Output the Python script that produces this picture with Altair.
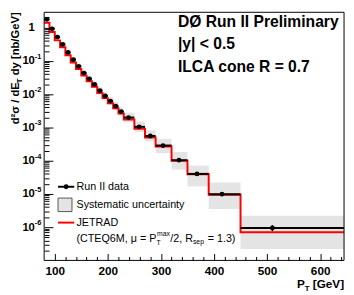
import altair as alt
import pandas as pd

# ---------------- data ----------------
bin_lo = [80, 90, 100, 110, 120, 130, 140, 150, 160, 170, 180, 190, 200, 210, 220,
          230, 250, 270, 290, 320, 350, 390, 450]
bin_hi = [90, 100, 110, 120, 130, 140, 150, 160, 170, 180, 190, 200, 210, 220, 230,
          250, 270, 290, 320, 350, 390, 450, 645]
pt_mean = [85, 95, 105, 115, 125, 135, 145, 155, 165, 175, 185, 195, 205, 215, 225,
           239, 259, 280, 304, 334, 368, 415, 510]
xsec_data = [1.78, 0.92, 0.52, 0.313, 0.18, 0.109, 0.0686, 0.0432, 0.029, 0.0195,
             0.0128, 0.00885, 0.0062, 0.00436, 0.003, 0.00198, 0.00104, 0.000552,
             0.000285, 1.03e-4, 4.0e-5, 9.8e-6, 9.5e-7]
xsec_jetrad = [1.41, 0.74, 0.415, 0.257, 0.148, 0.090, 0.057, 0.0363, 0.0244, 0.0166,
               0.0109, 0.0076, 0.00533, 0.00379, 0.00261, 0.00172, 0.000915, 0.000497,
               0.000265, 1.0e-4, 3.92e-5, 9.5e-6, 7.0e-7]
sys_up_pct = [22, 20, 19, 19, 20, 21, 22, 23, 24, 25, 27, 29, 31, 33, 35,
              40, 44, 49, 59, 78, 78, 125, 131]
sys_dn_pct = [18, 17, 16, 16, 17, 17, 18, 19, 20, 20, 21, 22, 23, 24, 25,
              28, 30, 31, 41, 48, 58, 64, 77]
stat_pct = [1, 1, 1, 1, 1, 1, 1, 1, 1, 1, 1, 1, 1, 1, 2, 2, 3, 4, 5, 7, 9, 12, 20]

x_major = [100, 200, 300, 400, 500, 600]
x_minor = [120, 140, 160, 180, 220, 240, 260, 280, 320, 340, 360, 380, 420, 440,
           460, 480, 520, 540, 560, 580, 620, 640]
y_major = [1e-6, 1e-5, 1e-4, 1e-3, 1e-2, 1e-1, 1]
y_exp_vals = [1e-6, 1e-5, 1e-4, 1e-3, 1e-2, 1e-1]
y_exp_text = ["-6", "-5", "-4", "-3", "-2", "-1"]
y_minor = [m * 10.0 ** e for e in range(-7, 1) for m in range(2, 10) if m * 10.0 ** e <= 2.9]

title_lines = ["DØ Run II Preliminary", "|y| < 0.5", "ILCA cone R = 0.7"]

# ---------------- tables ----------------
df = pd.DataFrame({
    "lo": bin_lo, "hi": bin_hi, "pt": pt_mean, "data": xsec_data,
})
df["band_hi"] = [d * (1 + u / 100) for d, u in zip(xsec_data, sys_up_pct)]
df["band_lo"] = [d * (1 - v / 100) for d, v in zip(xsec_data, sys_dn_pct)]
df["stat_hi"] = [d * (1 + s / 100) for d, s in zip(xsec_data, stat_pct)]
df["stat_lo"] = [d * (1 - s / 100) for d, s in zip(xsec_data, stat_pct)]

df_th = pd.DataFrame({"x": bin_lo + [bin_hi[-1]], "y": xsec_jetrad + [xsec_jetrad[-1]]})
df_exp = pd.DataFrame({"v": y_exp_vals, "t": y_exp_text})
one = pd.DataFrame({"k": [0]})

FONT = "Liberation Sans"
W, H = 307, 254

XS = alt.Scale(domain=[80, 645], nice=False, zero=False)
YS = alt.Scale(type="log", domain=[1e-7, 2.9], nice=False)

ax_x_major = alt.Axis(orient="bottom", values=x_major, tickSize=7, offset=-7, domain=False,
                      grid=False, tickColor="black", tickWidth=1, labelFont=FONT,
                      labelFontSize=12, labelFontWeight="bold", labelColor="black",
                      labelPadding=5, labelFlush=False, labelOverlap=False, zindex=2)
ax_x_minor = alt.Axis(orient="bottom", values=x_minor, tickSize=4, offset=-4, domain=False,
                      grid=False, labels=False, tickColor="black", tickWidth=1, zindex=2)
ax_y_major = alt.Axis(orient="left", values=y_major,
                      labelExpr="datum.value > 0.5 ? '1' : '10'",
                      tickSize=9, offset=-9, domain=False, grid=False, tickColor="black",
                      tickWidth=1, labelFont=FONT, labelFontSize=11.5, labelFontWeight="bold",
                      labelColor="black", labelPadding=10, labelFlush=False,
                      labelOverlap=False, zindex=2)
ax_y_minor = alt.Axis(orient="left", values=y_minor, tickSize=5, offset=-5, domain=False,
                      grid=False, labels=False, tickColor="black", tickWidth=1, zindex=2)

band = alt.Chart(df).mark_rect(color="#e4e4e4").encode(
    x=alt.X("lo:Q", scale=XS, axis=ax_x_major, title=None),
    x2="hi:Q",
    y=alt.Y("band_lo:Q", scale=YS, axis=ax_y_major, title=None),
    y2="band_hi:Q",
)
theory = alt.Chart(df_th).mark_line(interpolate="step-after", color="#ff0000", strokeWidth=2).encode(
    x=alt.X("x:Q", scale=XS, axis=ax_x_minor, title=None),
    y=alt.Y("y:Q", scale=YS, axis=ax_y_minor, title=None),
)
bars = alt.Chart(df).mark_rule(color="black", strokeWidth=2).encode(
    x=alt.X("lo:Q", scale=XS, axis=None), x2="hi:Q",
    y=alt.Y("data:Q", scale=YS, axis=None),
)
errs = alt.Chart(df).mark_rule(color="black", strokeWidth=1.5).encode(
    x=alt.X("pt:Q", scale=XS, axis=None),
    y=alt.Y("stat_lo:Q", scale=YS, axis=None), y2="stat_hi:Q",
)
pts = alt.Chart(df).mark_circle(color="black", size=24, opacity=1).encode(
    x=alt.X("pt:Q", scale=XS, axis=None),
    y=alt.Y("data:Q", scale=YS, axis=None),
)
expo = alt.Chart(df_exp).mark_text(align="left", baseline="middle", dy=-4, font=FONT,
                                   fontSize=7.5, fontWeight="bold", color="black").encode(
    x=alt.value(-9.5),
    y=alt.Y("v:Q", scale=YS, axis=None),
    text="t:N",
)


def txt(s, x, y, size, weight="normal", align="left", baseline="alphabetic", angle=0, dy=0):
    return alt.Chart(one).mark_text(text=s, align=align, baseline=baseline, font=FONT,
                                    fontSize=size, fontWeight=weight, color="black",
                                    angle=angle, dy=dy).encode(x=alt.value(x), y=alt.value(y))


layers = [band, theory, bars, errs, pts, expo]

# top-right annotation
for i, line in enumerate(title_lines):
    layers.append(txt(line, 137, 15 + 23 * i, 16, weight="bold"))

# y-axis title (rotated, reading upwards)
layers.append(txt("d²σ / dE", -26, 114.6, 11.5, weight="bold", angle=270))
layers.append(txt("T", -26, 72.6, 8, weight="bold", angle=270, dy=3))
layers.append(txt("dy [nb/GeV]", -26, 64.5, 11.5, weight="bold", angle=270))

# x-axis title
layers.append(txt("P", 266.8, 282, 12, weight="bold", align="right"))
layers.append(txt("T", 266.8, 282, 8, weight="bold", dy=3))
layers.append(txt("[GeV]", 275, 282, 12, weight="bold"))

# legend
leg_data_line = alt.Chart(one).mark_rule(color="black", strokeWidth=2).encode(
    x=alt.value(14.2), x2=alt.value(30.8), y=alt.value(178.6))
leg_data_pt = alt.Chart(one).mark_circle(color="black", size=24, opacity=1).encode(
    x=alt.value(22.5), y=alt.value(178.6))
leg_box = alt.Chart(one).mark_rect(fill="#e4e4e4", stroke="#555555", strokeWidth=1).encode(
    x=alt.value(14.2), x2=alt.value(28.5), y=alt.value(190.2), y2=alt.value(204.0))
leg_red = alt.Chart(one).mark_rule(color="#ff0000", strokeWidth=2).encode(
    x=alt.value(14.2), x2=alt.value(30.8), y=alt.value(215.3))
layers += [leg_data_line, leg_data_pt, leg_box, leg_red]
layers.append(txt("Run II data", 33.1, 178.6, 11, baseline="middle"))
layers.append(txt("Systematic uncertainty", 33.1, 197.1, 11, baseline="middle"))
layers.append(txt("JETRAD", 33.1, 215.3, 11, baseline="middle"))
layers.append(txt("(CTEQ6M, μ = P", 33.1, 231.9, 11, baseline="middle"))
layers.append(txt("T", 114.9, 231.9, 7, baseline="middle", dy=4))
layers.append(txt("max", 115.5, 231.9, 7, baseline="middle", dy=-4.5))
layers.append(txt("/2, R", 129.1, 231.9, 11, baseline="middle"))
layers.append(txt("sep", 152.3, 231.9, 7, baseline="middle", dy=3.5))
layers.append(txt("= 1.3)", 167.4, 231.9, 11, baseline="middle"))

frame = alt.Chart(one).mark_rect(fillOpacity=0, stroke="black", strokeWidth=1).encode(
    x=alt.value(0), x2=alt.value(W), y=alt.value(0), y2=alt.value(H))
layers.append(frame)

chart = alt.layer(*layers).properties(
    width=W, height=H,
    padding={"left": 37, "top": 1, "right": 2, "bottom": 31},
    autosize=alt.AutoSizeParams(type="none"),
).resolve_axis(x="independent", y="independent").configure_view(strokeOpacity=0)

chart.save("out.html", embed_options={"renderer": "svg", "actions": False})
